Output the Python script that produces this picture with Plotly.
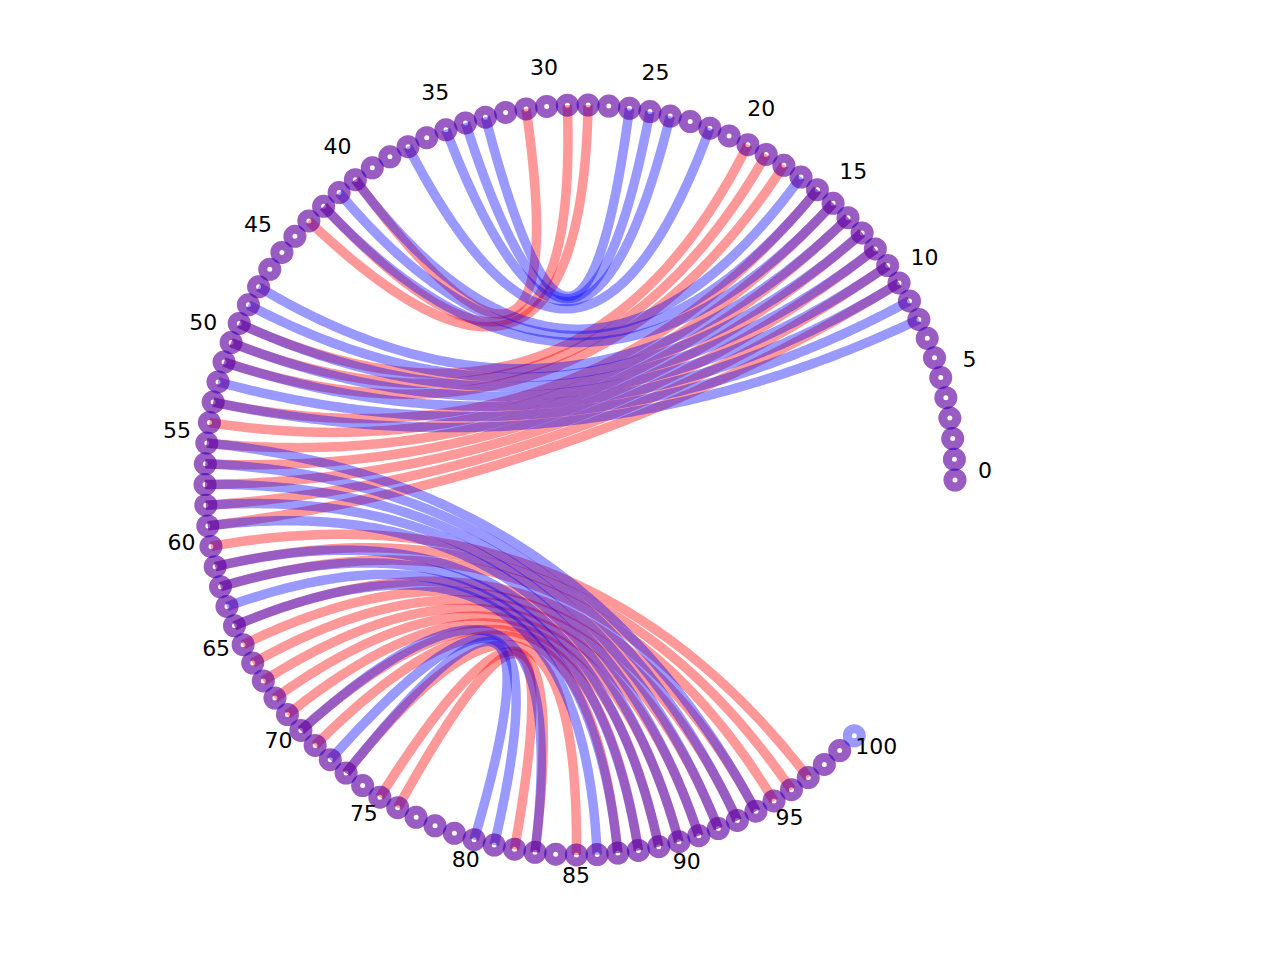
"""Circle plot comparing two base-pairing structures (red vs blue).

Nodes sit on a circle arc, links are quadratic Bezier curves pulled
towards the centre.
"""
from __future__ import annotations

import numpy as np
import plotly.graph_objects as go

# ---------------------------------------------------------------------------
# data
# ---------------------------------------------------------------------------

red_nodes = list(range(0, 100))
blue_nodes = list(range(0, 101))

red_pairs = [
    (10, 59), (11, 58), (12, 57), (13, 56), (14, 55), (15, 54), (16, 53),
    (18, 51), (19, 50), (20, 49),
    (28, 43), (29, 42), (31, 40),
    (60, 97), (61, 96), (62, 95), (64, 94), (65, 93), (66, 92), (67, 91),
    (68, 90), (69, 89), (70, 88), (71, 87), (73, 85), (75, 83), (76, 82),
]
blue_pairs = [
    (8, 53), (9, 52), (10, 51), (11, 50), (12, 49), (13, 48), (14, 47),
    (15, 42), (16, 41), (17, 40),
    (22, 37), (24, 35), (25, 34), (26, 33),
    (55, 94), (56, 93), (57, 92), (58, 91), (59, 90), (61, 89), (62, 88),
    (63, 87), (64, 86), (70, 83), (72, 81), (73, 80),
]
tick_labels = list(range(0, 101, 5))

# ---------------------------------------------------------------------------
# geometry / style
# ---------------------------------------------------------------------------

STEP = np.radians(3.17)
LABEL_R = 1.08
RED = "rgba(255,0,0,0.4)"
BLUE = "rgba(0,0,255,0.4)"
PX = 375.0  # pixels per unit radius


def node_xy(k):
    a = k * STEP
    return np.cos(a), np.sin(a)


def bezier(i, j, n=150):
    x0, y0 = node_xy(i)
    x2, y2 = node_xy(j)
    t = np.linspace(0, 1, n)
    # control point at the circle centre (0, 0)
    return (1 - t) ** 2 * x0 + t ** 2 * x2, (1 - t) ** 2 * y0 + t ** 2 * y2


fig = go.Figure()

for pairs, color in ((red_pairs, RED), (blue_pairs, BLUE)):
    for i, j in pairs:
        bx, by = bezier(i, j)
        fig.add_trace(go.Scatter(x=bx, y=by, mode="lines",
                                 line=dict(color=color, width=9.5, simplify=False),
                                 hoverinfo="skip"))

for nodes, color in ((red_nodes, RED), (blue_nodes, BLUE)):
    xs, ys = zip(*(node_xy(k) for k in nodes))
    fig.add_trace(go.Scatter(
        x=xs, y=ys, mode="markers", text=[str(k) for k in nodes],
        cliponaxis=False,
        marker=dict(symbol="circle-open", size=14, color=color,
                    line=dict(width=9, color=color)),
    ))

lx = [LABEL_R * np.cos(k * STEP) for k in tick_labels]
ly = [LABEL_R * np.sin(k * STEP) + 0.02 for k in tick_labels]
fig.add_trace(go.Scatter(x=lx, y=ly, mode="text",
                         text=[str(k) for k in tick_labels],
                         textfont=dict(family="DejaVu Sans", size=22, color="black"),
                         cliponaxis=False, hoverinfo="skip"))

# page has an 8px body margin; circle centre sits at (572, 472) in figure px
fig.update_layout(
    width=1264, height=944,
    margin=dict(l=20, r=20, t=20, b=20),
    showlegend=False,
    paper_bgcolor="white", plot_bgcolor="white",
    xaxis=dict(range=[(20 - 572) / PX, (1244 - 572) / PX], visible=False),
    yaxis=dict(range=[(472 - 924) / PX, (472 - 20) / PX], visible=False),
)

fig.write_html("out.html")
